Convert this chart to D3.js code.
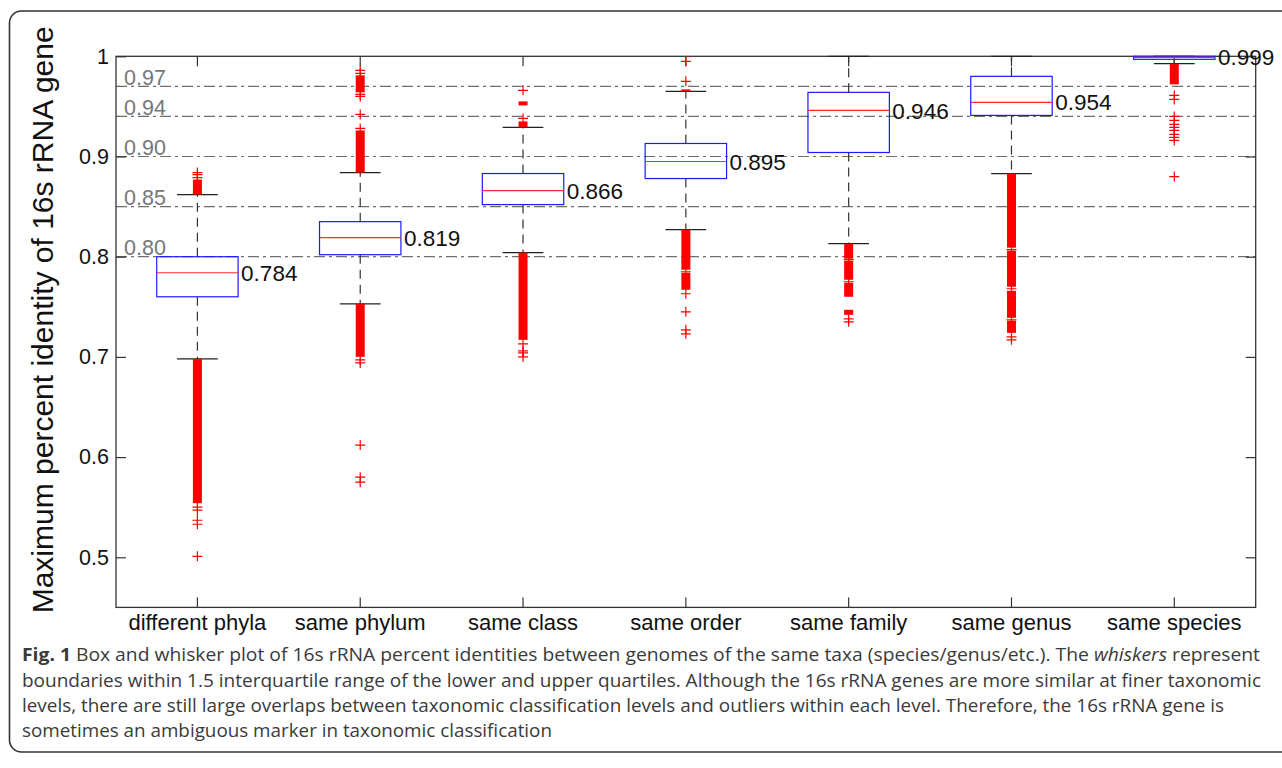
<!DOCTYPE html>
<html>
<head>
<meta charset="utf-8">
<script src="https://cdn.jsdelivr.net/npm/d3@7"></script>
<style>
  html, body { margin: 0; padding: 0; background: #fff; }
  svg { display: block; }
</style>
</head>
<body>
<svg id="fig" width="1282" height="768"></svg>
<script>
// Taxonomic levels compared
const categories = ["different phyla", "same phylum", "same class", "same order", "same family", "same genus", "same species"];

// Box statistics per level
const medians    = [0.784, 0.819, 0.866, 0.895, 0.946, 0.954, 0.999];
const q1         = [0.760, 0.802, 0.852, 0.878, 0.904, 0.941, 0.997];
const q3         = [0.800, 0.835, 0.883, 0.913, 0.964, 0.980, 1.000];
const whiskerLow = [0.698, 0.753, 0.804, 0.827, 0.813, 0.883, 0.9926];
const whiskerHigh= [0.862, 0.884, 0.929, 0.965, 1.000, 1.000, 1.000];

// Runs of outliers so dense that the markers merge into a solid column [low, high]
const outlierRuns = [
  [[0.862, 0.877], [0.554, 0.698]],
  [[0.884, 0.926], [0.964, 0.981], [0.700, 0.753]],
  [[0.929, 0.935], [0.951, 0.955], [0.717, 0.804]],
  [[0.965, 0.967], [0.787, 0.827], [0.767, 0.784]],
  [[0.798, 0.813], [0.777, 0.796], [0.760, 0.774], [0.742, 0.747]],
  [[0.809, 0.883], [0.770, 0.806], [0.739, 0.766], [0.724, 0.736]],
  [[0.972, 0.9926]]
];

// Individual outliers
const outliers = [
  [0.879, 0.882, 0.884, 0.550, 0.547, 0.537, 0.533, 0.501],
  [0.928, 0.942, 0.983, 0.986, 0.962, 0.960, 0.697, 0.694, 0.612, 0.580, 0.575],
  [0.938, 0.966, 0.713, 0.706, 0.704, 0.700],
  [0.975, 0.995, 0.785, 0.763, 0.745, 0.727, 0.723],
  [0.797, 0.775, 0.738, 0.735],
  [0.807, 0.768, 0.737, 0.720, 0.717],
  [0.961, 0.957, 0.940, 0.936, 0.932, 0.929, 0.926, 0.922, 0.919, 0.916, 0.880]
];

// Identity thresholds drawn as reference lines
const thresholds = [0.97, 0.94, 0.90, 0.85, 0.80];
const thresholdLabels = ["0.97", "0.94", "0.90", "0.85", "0.80"];

// Y axis ticks
const yTicks = [0.5, 0.6, 0.7, 0.8, 0.9, 1];
const yTickLabels = ["0.5", "0.6", "0.7", "0.8", "0.9", "1"];

const yLabel = "Maximum percent identity of 16s rRNA gene";

const svg = d3.select("#fig");
const plot = { left: 116, right: 1255.7, top: 56.3, bottom: 607.4 };

// Figure frame
svg.append("rect")
  .attr("x", 9.5).attr("y", 11).attr("width", 1300).attr("height", 741)
  .attr("rx", 12).attr("ry", 12)
  .attr("fill", "none").attr("stroke", "#333").attr("stroke-width", 1.6);

const x = d3.scaleBand().domain(categories).range([plot.left, plot.right]).padding(0);
const y = d3.scaleLinear().domain([0.45, 1.0]).range([plot.bottom, plot.top]);
const cx = c => x(c) + x.bandwidth() / 2;
const boxW = x.bandwidth() * 0.5;

const font = "'Liberation Sans', Arial, sans-serif";

// Reference lines
const refG = svg.append("g");
refG.selectAll("line").data(thresholds).join("line")
  .attr("x1", plot.left).attr("x2", plot.right)
  .attr("y1", d => y(d)).attr("y2", d => y(d))
  .attr("stroke", "#6e6e6e").attr("stroke-width", 1.2)
  .attr("stroke-dasharray", "11,4,3,4");
refG.selectAll("text").data(thresholds).join("text")
  .attr("x", plot.left + 8).attr("y", d => y(d) - 1.5)
  .attr("font-family", font).attr("font-size", 21.5)
  .attr("fill", "#777")
  .text((d, i) => thresholdLabels[i]);

// Axes drawn as a closed box with inward ticks on every side
const axisStyle = g => {
  g.select(".domain").remove();
  g.selectAll(".tick line").attr("stroke", "#333").attr("stroke-width", 1.2);
};
svg.append("g").attr("transform", `translate(${plot.left},0)`)
  .call(d3.axisRight(y).tickValues(yTicks).tickSize(10).tickFormat(""))
  .call(axisStyle);
svg.append("g").attr("transform", `translate(${plot.right},0)`)
  .call(d3.axisLeft(y).tickValues(yTicks).tickSize(10).tickFormat(""))
  .call(axisStyle);
svg.append("g").attr("transform", `translate(0,${plot.bottom})`)
  .call(d3.axisTop(x).tickSize(10).tickFormat(""))
  .call(axisStyle);
svg.append("g").attr("transform", `translate(0,${plot.top})`)
  .call(d3.axisBottom(x).tickSize(10).tickFormat(""))
  .call(axisStyle);

// Tick labels
const yLab = svg.append("g").attr("transform", `translate(${plot.left},0)`)
  .call(d3.axisLeft(y).tickValues(yTicks).tickSize(0).tickPadding(7)
    .tickFormat((d, i) => yTickLabels[i]));
yLab.select(".domain").remove();
yLab.selectAll("text").attr("font-family", font).attr("font-size", 21.5).attr("fill", "#111");

const xLab = svg.append("g").attr("transform", `translate(0,${plot.bottom})`)
  .call(d3.axisBottom(x).tickSize(0).tickPadding(7));
xLab.select(".domain").remove();
xLab.selectAll("text").attr("font-family", font).attr("font-size", 22).attr("fill", "#111");

// Plot frame
svg.append("rect")
  .attr("x", plot.left).attr("y", plot.top)
  .attr("width", plot.right - plot.left).attr("height", plot.bottom - plot.top)
  .attr("fill", "none").attr("stroke", "#333").attr("stroke-width", 1.3);

// Boxes
const idx = d3.range(categories.length);
const boxes = svg.append("g").selectAll("g").data(idx).join("g");

// Whisker stems
boxes.append("line")
  .attr("x1", i => cx(categories[i])).attr("x2", i => cx(categories[i]))
  .attr("y1", i => y(q3[i])).attr("y2", i => y(whiskerHigh[i]))
  .attr("stroke", "#333").attr("stroke-width", 1.2).attr("stroke-dasharray", "9,6");
boxes.append("line")
  .attr("x1", i => cx(categories[i])).attr("x2", i => cx(categories[i]))
  .attr("y1", i => y(q1[i])).attr("y2", i => y(whiskerLow[i]))
  .attr("stroke", "#333").attr("stroke-width", 1.2).attr("stroke-dasharray", "9,6");

// Whisker caps
boxes.append("line")
  .attr("x1", i => cx(categories[i]) - boxW / 4).attr("x2", i => cx(categories[i]) + boxW / 4)
  .attr("y1", i => y(whiskerHigh[i])).attr("y2", i => y(whiskerHigh[i]))
  .attr("stroke", "#222").attr("stroke-width", 1.3);
boxes.append("line")
  .attr("x1", i => cx(categories[i]) - boxW / 4).attr("x2", i => cx(categories[i]) + boxW / 4)
  .attr("y1", i => y(whiskerLow[i])).attr("y2", i => y(whiskerLow[i]))
  .attr("stroke", "#222").attr("stroke-width", 1.3);

// Interquartile box
boxes.append("rect")
  .attr("x", i => cx(categories[i]) - boxW / 2)
  .attr("y", i => y(q3[i]))
  .attr("width", boxW)
  .attr("height", i => y(q1[i]) - y(q3[i]))
  .attr("fill", "none").attr("stroke", "#1a1aff").attr("stroke-width", 1.2);

// Median
boxes.append("line")
  .attr("x1", i => cx(categories[i]) - boxW / 2).attr("x2", i => cx(categories[i]) + boxW / 2)
  .attr("y1", i => y(medians[i])).attr("y2", i => y(medians[i]))
  .attr("stroke", "#ff2a2a").attr("stroke-width", 1.2);

// Outlier columns
const runs = [];
outlierRuns.forEach((list, i) => list.forEach(r => runs.push({ i, lo: r[0], hi: r[1] })));
svg.append("g").selectAll("rect").data(runs).join("rect")
  .attr("x", d => cx(categories[d.i]) - 4.5)
  .attr("y", d => y(d.hi))
  .attr("width", 9)
  .attr("height", d => Math.max(1.5, y(d.lo) - y(d.hi)))
  .attr("fill", "#ff0000");

// Outlier markers
const pts = [];
outliers.forEach((list, i) => list.forEach(v => pts.push({ i, v })));
svg.append("g").selectAll("path").data(pts).join("path")
  .attr("d", d => {
    const px = cx(categories[d.i]), py = y(d.v);
    return `M${px - 5},${py}H${px + 5}M${px},${py - 5}V${py + 5}`;
  })
  .attr("stroke", "#ff0000").attr("stroke-width", 1.2).attr("fill", "none");

// Median value labels
boxes.append("text")
  .attr("x", i => cx(categories[i]) + boxW / 2 + 3)
  .attr("y", i => y(medians[i]))
  .attr("dy", "0.36em")
  .attr("font-family", font).attr("font-size", 22.5).attr("fill", "#111")
  .text(i => medians[i].toFixed(3));

// Y axis title
svg.append("text")
  .attr("transform", `translate(53,${(plot.top + plot.bottom) / 2 - 12}) rotate(-90)`)
  .attr("text-anchor", "middle")
  .attr("font-family", font).attr("font-size", 30).attr("fill", "#111")
  .text(yLabel);

// Caption
const capFont = "'Open Sans', 'Noto Sans', sans-serif";
const cap = svg.append("g").attr("font-family", capFont).attr("font-size", 18.5).attr("fill", "#3a3a3a");
const l1 = cap.append("text").attr("x", 22).attr("y", 661)
  .attr("textLength", 1238).attr("lengthAdjust", "spacingAndGlyphs");
l1.append("tspan").attr("font-weight", "bold").text("Fig. 1");
l1.append("tspan").text(" Box and whisker plot of 16s rRNA percent identities between genomes of the same taxa (species/genus/etc.). The ");
l1.append("tspan").attr("font-style", "italic").text("whiskers");
l1.append("tspan").text(" represent");
cap.append("text").attr("x", 22).attr("y", 687)
  .attr("textLength", 1239).attr("lengthAdjust", "spacingAndGlyphs")
  .text("boundaries within 1.5 interquartile range of the lower and upper quartiles. Although the 16s rRNA genes are more similar at finer taxonomic");
cap.append("text").attr("x", 22).attr("y", 712)
  .attr("textLength", 1202).attr("lengthAdjust", "spacingAndGlyphs")
  .text("levels, there are still large overlaps between taxonomic classification levels and outliers within each level. Therefore, the 16s rRNA gene is");
cap.append("text").attr("x", 22).attr("y", 737)
  .attr("textLength", 530).attr("lengthAdjust", "spacingAndGlyphs")
  .text("sometimes an ambiguous marker in taxonomic classification");
</script>
</body>
</html>
